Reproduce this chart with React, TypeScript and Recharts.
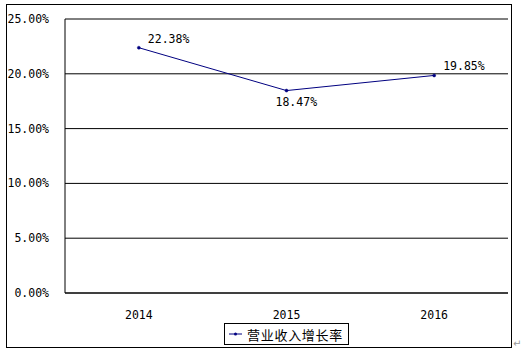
import { LineChart, Line, XAxis, YAxis, CartesianGrid, LabelList, ReferenceLine } from "recharts";

const years = ["2014", "2015", "2016"];
const growth = [22.38, 18.47, 19.85];
const yTicks = [0, 5, 10, 15, 20, 25];
const seriesName = "营业收入增长率";

const data = years.map((year, i) => ({ year, value: growth[i] }));

const NAVY = "#000080";
const tickFont = { fontFamily: "'DejaVu Sans Mono', monospace", fontSize: 11.5, fill: "#000" };

const PointLabel = (props: any) => {
  const { x, y, value, index } = props;
  const below = index === 1;
  return (
    <text
      x={x + (below ? -11 : 9)}
      y={y + (below ? 11 : -9)}
      dominantBaseline="central"
      {...tickFont}
    >
      {value.toFixed(2)}%
    </text>
  );
};

const LegendBox = () => (
  <div
    style={{
      position: "absolute",
      left: 65,
      width: 443,
      top: 323,
      display: "flex",
      justifyContent: "center",
    }}
  >
    <div
      style={{
        display: "flex",
        alignItems: "center",
        border: "1px solid #000",
        padding: "1px 5px 1px 4px",
        height: 18,
        background: "#fff",
      }}
    >
      <svg width={14} height={10} style={{ marginRight: 4 }}>
        <line x1={0} y1={5} x2={13} y2={5} stroke={NAVY} strokeWidth={1} />
        <circle cx={6.5} cy={5} r={1.5} fill={NAVY} />
      </svg>
      <span
        style={{
          fontFamily: "'Noto Sans CJK SC', sans-serif",
          fontSize: 13,
          letterSpacing: 0.7,
          color: "#000",
        }}
      >
        {seriesName}
      </span>
    </div>
  </div>
);

export default function App() {
  return (
    <div style={{ position: "absolute", left: 0, top: 0, width: 525, height: 353, background: "#fff" }}>
      <div
        style={{
          position: "absolute",
          left: 6,
          top: 4,
          width: 504,
          height: 342,
          border: "1px solid #000",
        }}
      />
      <LineChart
        width={525}
        height={353}
        data={data}
        margin={{ top: 19, right: 17, left: 5, bottom: 30 }}
      >
        <CartesianGrid vertical={false} stroke="#000" strokeWidth={1} />
        <XAxis
          dataKey="year"
          scale="band"
          axisLine={{ stroke: "#000" }}
          tickLine={false}
          tick={tickFont}
          tickMargin={12}
          height={30}
        />
        <YAxis
          domain={[0, 25]}
          ticks={yTicks}
          width={60}
          axisLine={{ stroke: "#000" }}
          tickLine={false}
          tick={tickFont}
          tickMargin={10}
          tickFormatter={(v: number) => `${v.toFixed(2)}%`}
        />
        <YAxis
          yAxisId="right"
          orientation="right"
          domain={[0, 25]}
          width={0}
          tick={false}
          tickLine={false}
          axisLine={{ stroke: "#808080" }}
        />
        <ReferenceLine y={25} stroke="#808080" />
        <Line
          type="linear"
          dataKey="value"
          name={seriesName}
          stroke={NAVY}
          strokeWidth={1}
          dot={{ r: 1.5, fill: NAVY, stroke: NAVY, strokeWidth: 0.5 }}
          isAnimationActive={false}
        >
          <LabelList dataKey="value" content={<PointLabel />} />
        </Line>
      </LineChart>
      <LegendBox />
      <span
        style={{
          position: "absolute",
          left: 513,
          top: 338,
          fontSize: 10,
          color: "#999",
          fontFamily: "'DejaVu Sans', sans-serif",
        }}
      >
        ↵
      </span>
    </div>
  );
}
